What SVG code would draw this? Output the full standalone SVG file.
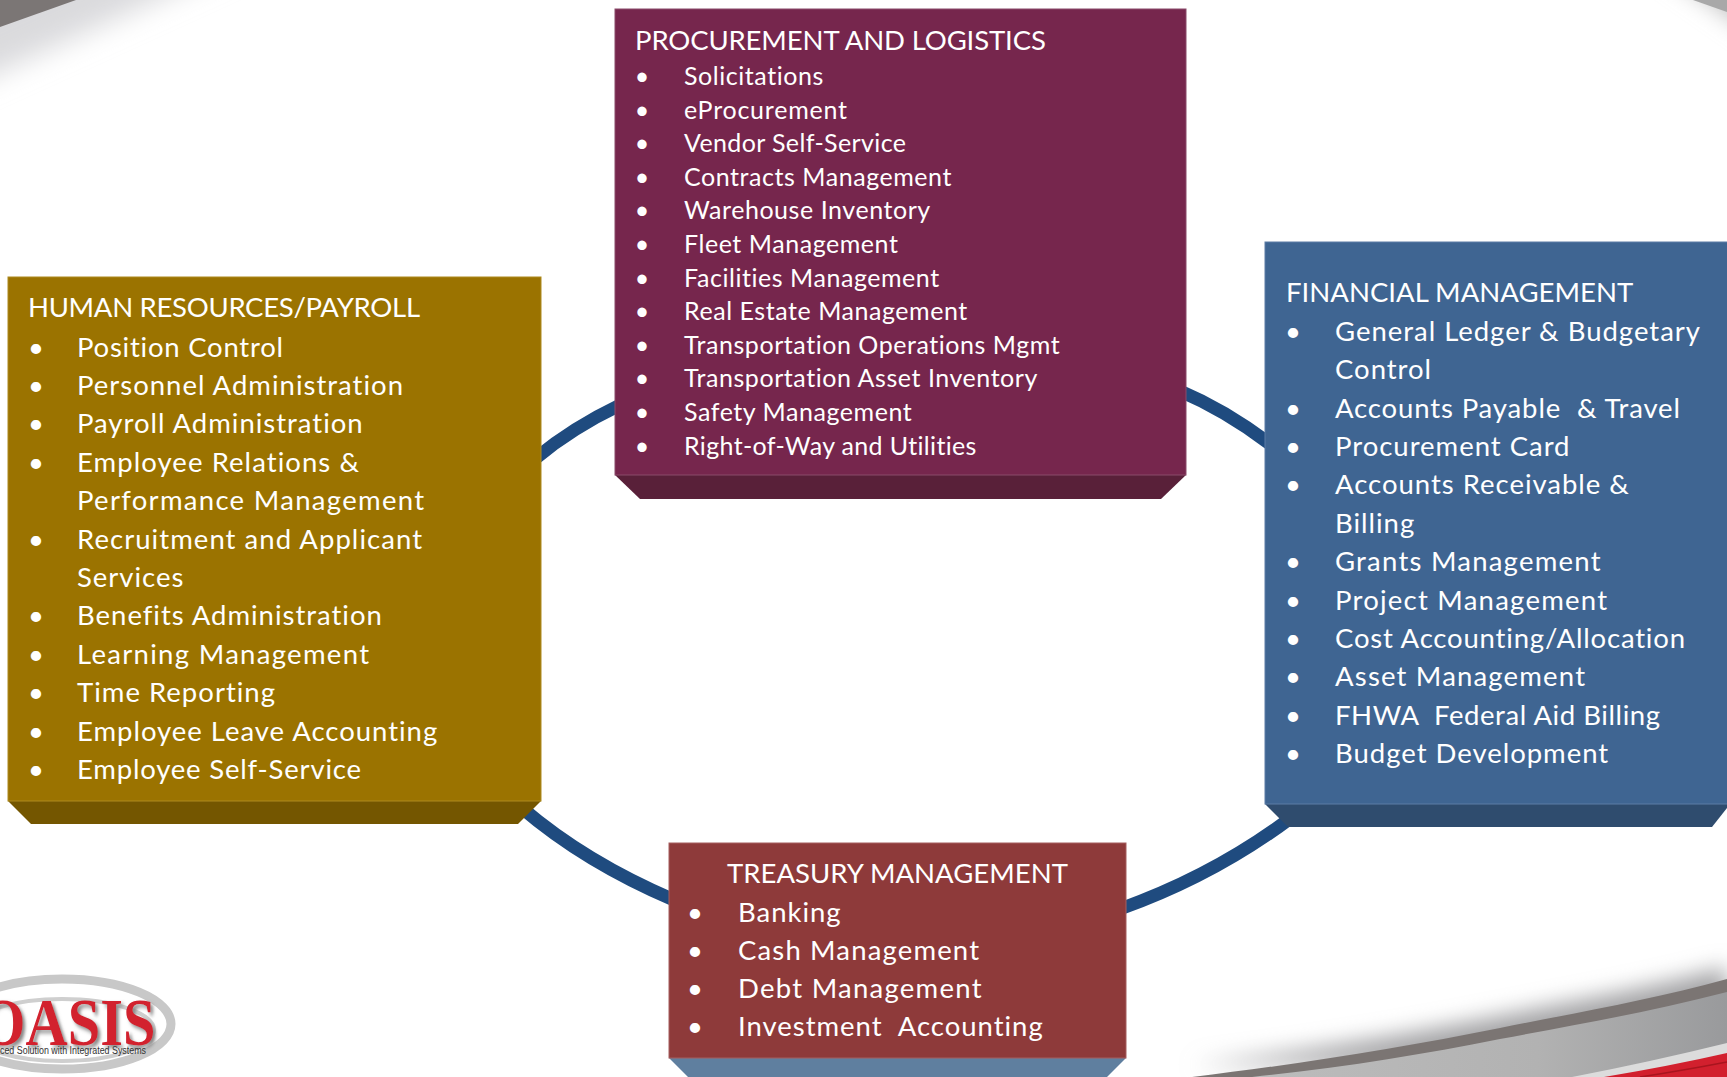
<svg xmlns="http://www.w3.org/2000/svg" width="1727" height="1077" viewBox="0 0 1727 1077">
<style>
text{font-family:"Lato","Open Sans",sans-serif;fill:#fff;white-space:pre}
.a{font-size:27.5px;letter-spacing:.98px}
.p{font-size:25px;letter-spacing:.55px}
.t{font-size:27.5px;letter-spacing:.02px}
.th{font-size:27.5px;letter-spacing:-.3px}
.tp{font-size:27.5px;letter-spacing:-.13px}
.b{text-anchor:middle;letter-spacing:0}
.ring{fill:none;stroke:#1f4b7f;stroke-width:13}
.logo{font-family:"Liberation Serif",serif;font-weight:700;fill:#d2202e;font-size:68px}
.tag{font-family:"Liberation Sans",sans-serif;fill:#333;font-size:10px}
</style>
<defs>
<filter id="blur" x="-30%" y="-30%" width="160%" height="160%"><feGaussianBlur stdDeviation="14"/></filter>
<filter id="blur2" x="-10%" y="-60%" width="120%" height="220%"><feGaussianBlur stdDeviation="11"/></filter>
<filter id="sh" x="-10%" y="-10%" width="130%" height="130%"><feDropShadow dx="3" dy="3" stdDeviation="2" flood-color="#888"/></filter>
<linearGradient id="sw" x1="0" y1="0" x2="1" y2="0"><stop offset="0" stop-color="#bcbcbc"/><stop offset="0.6" stop-color="#b2b2b2"/><stop offset="1" stop-color="#999a9c"/></linearGradient>
</defs>
<rect width="1727" height="1077" fill="#fff"/>
<g id="background">
<path d="M-40,-40H245L-40,90Z" fill="#dadadd" filter="url(#blur)"/>
<path d="M1660,-30H1760V40Z" fill="#c8c8c8" filter="url(#blur2)"/>
<path d="M0,0H76L0,27Z" fill="#7b7675"/>
<path d="M1693,0H1727V12Z" fill="#a8a8a8"/>
<path d="M1727,979C1650,1000 1580,1012 1500,1028C1400,1048 1300,1064 1192,1077H1727Z" fill="#a2a2a4" filter="url(#blur2)" transform="translate(0,-12)"/>
<path d="M1727,979C1650,1000 1580,1012 1500,1028C1400,1048 1300,1064 1192,1077H1727Z" fill="#7b7573"/>
<path d="M1727,992C1650,1012 1580,1024 1500,1039C1420,1055 1340,1068 1252,1077H1727Z" fill="url(#sw)"/>
<path d="M1727,1043Q1650,1062 1572,1077H1727Z" fill="#dcdcdc"/>
<path d="M1727,1053Q1670,1066 1604,1077H1727Z" fill="#d2202e"/>
<path d="M1727,1062Q1680,1071 1640,1077" fill="none" stroke="#a8151f" stroke-width="1.5"/>
</g>
<g id="logo">
<ellipse cx="62" cy="1024" rx="109" ry="45" fill="#fff" stroke="#c8c8c8" stroke-width="9"/>
<ellipse cx="62" cy="1030" rx="92" ry="31" fill="#fff" stroke="#cfcfcf" stroke-width="4"/>
<text class="logo" transform="translate(-20,1045) scale(.86,1)" filter="url(#sh)">OASIS</text>
<text class="tag" x="0" y="1054" textLength="146" lengthAdjust="spacingAndGlyphs">ced Solution with Integrated Systems</text>
</g>
<g id="connectors">
<path class="ring" d="M536,458Q572,428 620,405"/>
<path class="ring" d="M1180,391Q1225,410 1270,444"/>
<path class="ring" d="M1292,817Q1215,875 1120,909"/>
<path class="ring" d="M522,808Q585,862 674,900"/>
</g>
<g id="node-hr">
<path d="M8,801H541L518,824H31Z" fill="#745600"/>
<rect x="8" y="277" width="533" height="524" fill="#9b7300" stroke="#ad8a1e"/>
<text class="th" x="28" y="317">HUMAN RESOURCES/PAYROLL</text>
<g class="a">
<text class="b" x="36" y="357">•</text><text x="77" y="357" textLength="207">Position Control</text>
<text class="b" x="36" y="395">•</text><text x="77" y="395" textLength="327">Personnel Administration</text>
<text class="b" x="36" y="433">•</text><text x="77" y="433">Payroll Administration</text>
<text class="b" x="36" y="472">•</text><text x="77" y="472" textLength="283">Employee Relations &amp;</text>
<text x="77" y="510" textLength="348">Performance Management</text>
<text class="b" x="36" y="549">•</text><text x="77" y="549" textLength="346">Recruitment and Applicant</text>
<text x="77" y="587">Services</text>
<text class="b" x="36" y="625">•</text><text x="77" y="625">Benefits Administration</text>
<text class="b" x="36" y="664">•</text><text x="77" y="664" textLength="293">Learning Management</text>
<text class="b" x="36" y="702">•</text><text x="77" y="702" textLength="199">Time Reporting</text>
<text class="b" x="36" y="741">•</text><text x="77" y="741">Employee Leave Accounting</text>
<text class="b" x="36" y="779">•</text><text x="77" y="779" textLength="285">Employee Self-Service</text>
</g>
</g>
<g id="node-procurement">
<path d="M615,475H1186L1161,499H640Z" fill="#592039"/>
<rect x="615" y="9" width="571" height="466" fill="#76264d" stroke="#8a4a6a"/>
<text class="tp" x="635" y="50">PROCUREMENT AND LOGISTICS</text>
<g class="p">
<text class="b" x="642" y="85">•</text><text x="684" y="85">Solicitations</text>
<text class="b" x="642" y="119">•</text><text x="684" y="119" textLength="163.5">eProcurement</text>
<text class="b" x="642" y="152">•</text><text x="684" y="152" textLength="222.5">Vendor Self-Service</text>
<text class="b" x="642" y="186">•</text><text x="684" y="186">Contracts Management</text>
<text class="b" x="642" y="219">•</text><text x="684" y="219">Warehouse Inventory</text>
<text class="b" x="642" y="253">•</text><text x="684" y="253">Fleet Management</text>
<text class="b" x="642" y="287">•</text><text x="684" y="287">Facilities Management</text>
<text class="b" x="642" y="320">•</text><text x="684" y="320">Real Estate Management</text>
<text class="b" x="642" y="354">•</text><text x="684" y="354">Transportation Operations Mgmt</text>
<text class="b" x="642" y="387">•</text><text x="684" y="387">Transportation Asset Inventory</text>
<text class="b" x="642" y="421">•</text><text x="684" y="421">Safety Management</text>
<text class="b" x="642" y="455">•</text><text x="684" y="455" textLength="293">Right-of-Way and Utilities</text>
</g>
</g>
<g id="node-financial">
<path d="M1265,804H1727V808L1712,827H1288Z" fill="#2f4c6e"/>
<rect x="1265" y="242" width="470" height="562" fill="#3f6592" stroke="#5c7da5"/>
<text class="t" x="1286" y="302">FINANCIAL MANAGEMENT</text>
<g class="a">
<text class="b" x="1293" y="341">•</text><text x="1335" y="341">General Ledger &amp; Budgetary</text>
<text x="1335" y="379">Control</text>
<text class="b" x="1293" y="418">•</text><text x="1335" y="418" textLength="346">Accounts Payable  &amp; Travel</text>
<text class="b" x="1293" y="456">•</text><text x="1335" y="456">Procurement Card</text>
<text class="b" x="1293" y="494">•</text><text x="1335" y="494">Accounts Receivable &amp;</text>
<text x="1335" y="533">Billing</text>
<text class="b" x="1293" y="571">•</text><text x="1335" y="571" textLength="266.5">Grants Management</text>
<text class="b" x="1293" y="610">•</text><text x="1335" y="610" textLength="273">Project Management</text>
<text class="b" x="1293" y="648">•</text><text x="1335" y="648" textLength="351">Cost Accounting/Allocation</text>
<text class="b" x="1293" y="686">•</text><text x="1335" y="686" textLength="251">Asset Management</text>
<text class="b" x="1293" y="725">•</text><text x="1335" y="725" textLength="326">FHWA  Federal Aid Billing</text>
<text class="b" x="1293" y="763">•</text><text x="1335" y="763">Budget Development</text>
</g>
</g>
<g id="node-treasury">
<path d="M669,1058H1126L1107,1077H688Z" fill="#5f7f9f"/>
<rect x="669" y="843" width="457" height="215" fill="#8e3a3a" stroke="#a55f5f"/>
<text class="t" x="727" y="883">TREASURY MANAGEMENT</text>
<g class="a">
<text class="b" x="695" y="922">•</text><text x="738" y="922">Banking</text>
<text class="b" x="695" y="960">•</text><text x="738" y="960" textLength="242">Cash Management</text>
<text class="b" x="695" y="998">•</text><text x="738" y="998" textLength="244.5">Debt Management</text>
<text class="b" x="695" y="1036">•</text><text x="738" y="1036">Investment  Accounting</text>
</g>
</g>
</svg>
